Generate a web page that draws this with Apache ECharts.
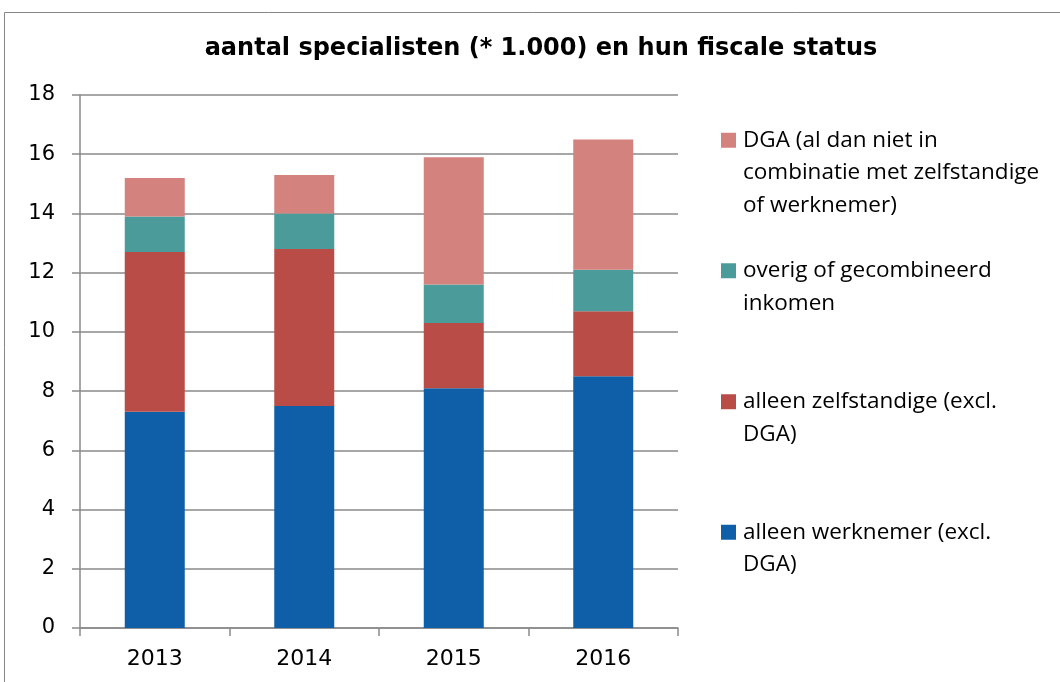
<!DOCTYPE html>
<html><head><meta charset="utf-8">
<script src="https://cdn.jsdelivr.net/npm/echarts@6/dist/echarts.min.js"></script>
<style>html,body{margin:0;padding:0;background:#fff}#c{width:1060px;height:682px}</style>
</head><body><div id="c"></div>
<script>
const categories = ['2013', '2014', '2015', '2016'];
const werknemer = [7.3, 7.5, 8.1, 8.5];
const zelfstandige = [5.4, 5.3, 2.2, 2.2];
const overig = [1.2, 1.2, 1.3, 1.4];
const dga = [1.3, 1.3, 4.3, 4.4];
const seriesNames = [
  'alleen werknemer (excl. DGA)',
  'alleen zelfstandige (excl. DGA)',
  'overig of gecombineerd inkomen',
  'DGA (al dan niet in combinatie met zelfstandige of werknemer)'
];
const legendLines = {
  'alleen werknemer (excl. DGA)': ['alleen werknemer (excl.', 'DGA)'],
  'alleen zelfstandige (excl. DGA)': ['alleen zelfstandige (excl.', 'DGA)'],
  'overig of gecombineerd inkomen': ['overig of gecombineerd', 'inkomen'],
  'DGA (al dan niet in combinatie met zelfstandige of werknemer)': ['DGA (al dan niet in', 'combinatie met zelfstandige', 'of werknemer)']
};
const colors = ['#0e5fa8', '#b94c46', '#4b9b9b', '#d3827e'];
const values = [werknemer, zelfstandige, overig, dga];

const LH = 32.5;
const legendTops = [516, 385.5, 254.5, 124];
const legends = seriesNames.map((name, i) => {
  const n = legendLines[name].length;
  const H = n * LH;
  const off = (LH - 15) / 2;
  return {
    data: [name],
    left: 721, top: legendTops[i], padding: 0,
    orient: 'vertical',
    selectedMode: false,
    itemWidth: 15, itemHeight: H, itemGap: 0,
    icon: 'path://M0,0M15,' + H + 'M0,' + off + 'h15v15h-15Z',
    formatter: (nm) => legendLines[nm].join('\n'),
    textStyle: { fontFamily: 'Open Sans', fontSize: 22.5, lineHeight: LH, color: '#000', padding: [0, 0, 0, 2] }
  };
});

const chart = echarts.init(document.getElementById('c'), null, { renderer: 'canvas' });
chart.setOption({
  animation: false,
  backgroundColor: '#fff',
  title: {
    text: 'aantal specialisten (* 1.000) en hun fiscale status',
    left: 541, top: 37, padding: 0, textAlign: 'center',
    textStyle: { fontFamily: 'DejaVu Sans', fontWeight: 'bold', fontSize: 24, color: '#000' }
  },
  graphic: [{
    type: 'rect', silent: true,
    shape: { x: 4.5, y: 12.5, width: 1100, height: 700 },
    style: { fill: 'none', stroke: '#878787', lineWidth: 1 }
  }],
  legend: legends,
  grid: { left: 80, right: 382, top: 95, bottom: 54, containLabel: false },
  xAxis: {
    type: 'category', data: categories,
    axisLine: { lineStyle: { color: '#8a8a8a', width: 1.5 } },
    axisTick: { show: true, length: 8, alignWithLabel: false, lineStyle: { color: '#8a8a8a', width: 1.5 } },
    axisLabel: { margin: 20, fontFamily: 'DejaVu Sans', fontSize: 22, color: '#000' }
  },
  yAxis: {
    type: 'value', min: 0, max: 18, interval: 2,
    axisLine: { show: true, lineStyle: { color: '#8a8a8a', width: 1.5 } },
    axisTick: { show: true, length: 8, lineStyle: { color: '#8a8a8a', width: 1.5 } },
    splitLine: { show: true, lineStyle: { color: '#8a8a8a', width: 1.5 } },
    axisLabel: { margin: 25, fontFamily: 'DejaVu Sans', fontSize: 21, color: '#000' }
  },
  series: seriesNames.map((name, i) => ({
    name, type: 'bar', stack: 'total', barWidth: 60,
    data: values[i],
    itemStyle: { color: colors[i] }
  }))
});
</script></body></html>
